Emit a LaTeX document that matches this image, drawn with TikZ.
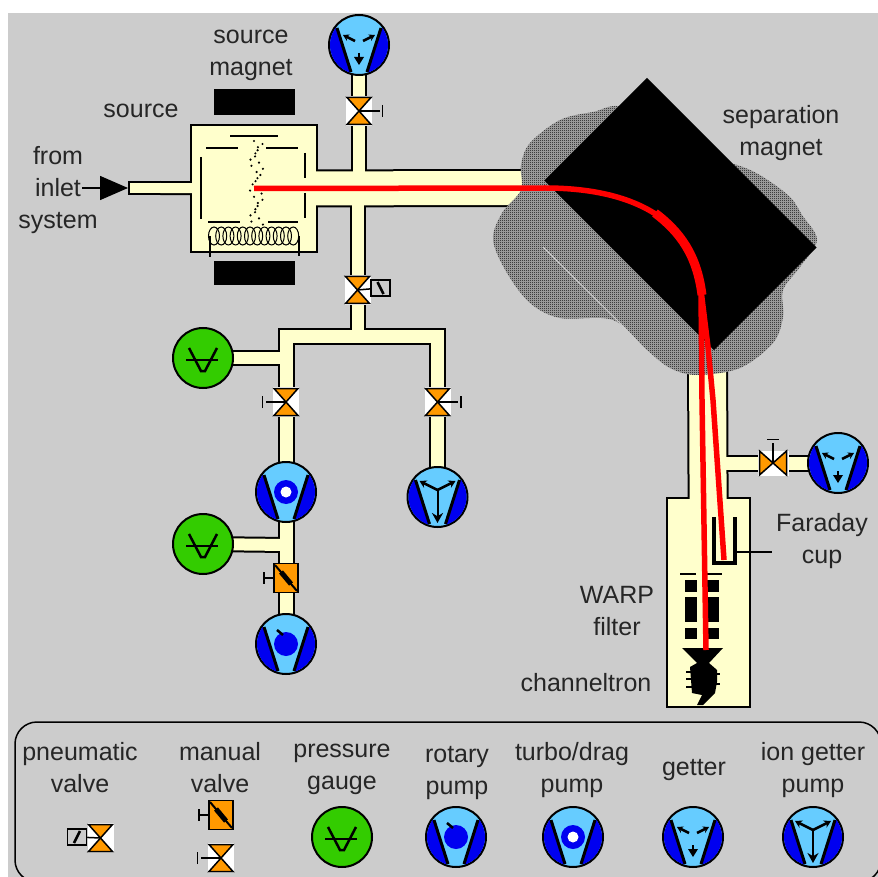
\documentclass[tikz,border=0pt]{standalone}
\usepackage{fontspec}
\setmainfont{Liberation Sans}
\usepackage{tikz}
\usetikzlibrary{arrows.meta}
\usetikzlibrary{patterns}
\usetikzlibrary{positioning}
\definecolor{panelgray}{HTML}{CCCCCC}
\definecolor{hatchbase}{HTML}{B0B0B0}
\definecolor{cream}{HTML}{FFFFCC}
\definecolor{skyblue}{HTML}{66CCFF}
\definecolor{pumpblue}{HTML}{0000F0}
\definecolor{gaugegreen}{HTML}{33CC00}
\definecolor{valveorange}{HTML}{FF9900}
\pgfdeclarepatternformonly{dither}{\pgfqpoint{0pt}{0pt}}{\pgfqpoint{2pt}{2pt}}{\pgfqpoint{2pt}{2pt}}{
	\pgfpathrectangle{\pgfqpoint{0pt}{0pt}}{\pgfqpoint{1pt}{1pt}}
	\pgfpathrectangle{\pgfqpoint{1pt}{1pt}}{\pgfqpoint{1pt}{1pt}}
	\pgfusepath{fill}
}
\pgfdeclarelayer{panel}
\pgfdeclarelayer{tubeback}
\pgfdeclarelayer{vessel}
\pgfdeclarelayer{tubefront}
\pgfsetlayers{panel,tubeback,vessel,tubefront,main}
\newcommand{\tubelines}{
	\draw[tube=34] (source.center) -- (mainend);
	\draw[tube=10] (inlet.center) -- (source.center);
	\draw[tube=12] (pump1.center) -- (mainjoin1);
	\draw[tube=12] (mainjoin2) -- (valve2.center) -- (tee1);
	\draw[tube=13] (pump2.center) -- (valve3.center) -- (tee2) -- (tee3) -- (valve4.center) -- (pump3.center);
	\draw[tube=12] (gauge1.center) -- (gaugejoin1);
	\draw[tube=13] (pump2.center) -- (valve5.center) -- (pump4.center);
	\draw[tube=12] (gauge2.center) -- (gaugejoin2);
	\draw[tube=37] (neckend) -- (chamber.center);
	\draw[tube=13] (neckjoin) -- (valve6.center) -- (pump5.center);
}
\begin{document}
\begin{tikzpicture}[x=1pt, y=-1pt,
			caption/.style={align=center, inner sep=0pt, text=black!85, font=\fontsize{25}{32}\selectfont, execute at begin node=\strut, execute at end node=\strut},
			vesselbox/.style={draw=black, fill=cream, line width=2pt, rectangle, inner sep=0pt},
			pumpdisc/.style={draw=black, fill=skyblue, line width=2pt, circle, inner sep=0pt, minimum size=60pt},
			gaugedisc/.style={draw=black, fill=gaugegreen, line width=2pt, circle, inner sep=0pt, minimum size=60pt},
			valvebox/.style={fill=white, rectangle, inner sep=0pt, minimum width=26pt, minimum height=30pt},
			sidebox/.style={fill=white, rectangle, inner sep=0pt, minimum width=31pt, minimum height=25pt},
			flapbox/.style={draw=black, fill=valveorange, line width=1.5pt, rectangle, inner sep=0pt, minimum width=24pt, minimum height=29pt},
			actbox/.style={draw=black, line width=1.5pt, rectangle, inner sep=0pt, minimum width=19pt, minimum height=16pt},
			magnetbar/.style={fill=black, rectangle, inner sep=0pt, minimum width=81pt},
			plate/.style={line width=2pt},
			beam/.style={draw=red, line width=5.5pt},
			lever/.style={line width=1.5pt},
			slants/.pic={
				\begin{scope}
					\clip (0,0) circle (29);
					\fill[pumpblue] (-22,-17) -- (-8,30) -- (-40,30) -- (-40,-17) -- cycle;
					\fill[pumpblue] (22,-17) -- (8,30) -- (40,30) -- (40,-17) -- cycle;
				\end{scope}
				\draw[line width=3pt] (-22,-17) -- (-8,27);
				\draw[line width=3pt] (22,-17) -- (8,27);
			},
			getterface/.pic={
				\pic {slants};
				\draw[line width=2.5pt, -{Stealth[length=6pt,width=7pt]}] (-4,-4) -- (-16,-10);
				\draw[line width=2.5pt, -{Stealth[length=6pt,width=7pt]}] (4,-4) -- (16,-10);
				\draw[line width=1.5pt] (0,8) -- (0,13);
				\fill (-5,12) -- (5,12) -- (0,20) -- cycle;
			},
			ionface/.pic={
				\pic {slants};
				\draw[line width=2.5pt, -{Stealth[length=7pt,width=8pt]}] (0,-7) -- (-18,-16);
				\draw[line width=2.5pt, -{Stealth[length=7pt,width=8pt]}] (0,-7) -- (18,-16);
				\draw[line width=2pt, -{Stealth[length=10pt,width=11pt]}] (0,-7) -- (0,26);
			},
			turboface/.pic={
				\pic {slants};
				\fill[pumpblue] (0,0) circle (12);
				\fill[white] (0,0) circle (5.5);
			},
			rotaryface/.pic={
				\pic {slants};
				\fill[pumpblue] (0,0) circle (12);
				\draw[line width=2.5pt] (-9,-14) -- (-3,-9);
			},
			gaugeface/.pic={
				\draw[line width=2.5pt] (-14,-10) -- (-2,13) -- (2,13) -- (14,-10);
				\draw[line width=2pt] (-17,2) -- (15,2);
			},
			hourglass/.pic={
				\filldraw[draw=black, fill=valveorange, line width=1.5pt] (-12,-13.5) -- (12,-13.5) -- (0,0) -- cycle;
				\filldraw[draw=black, fill=valveorange, line width=1.5pt] (-12,13.5) -- (12,13.5) -- (0,0) -- cycle;
			},
			knob/.pic={
				\draw[lever] (0,0) -- (20.5,0);
				\draw[lever] (23.5,-6) -- (23.5,6);
			},
			flap/.pic={
				\draw[line width=2pt] (-11,-13) -- (11,13);
				\draw[line width=5pt] (-5,-6) -- (5,6);
				\draw[lever] (-12,0) -- (-22,0);
				\draw[lever] (-22,-6) -- (-22,6);
			}]
			\useasboundingbox (0,0) rectangle (878,877);
			\begin{pgfonlayer}{panel}
				\fill[panelgray] (8,13) rectangle (878,877);
			\end{pgfonlayer}

			\begin{pgfonlayer}{vessel}
				\node[vesselbox, minimum width=62pt, minimum height=12pt](inlet) at (160, 188) {};
				\node[vesselbox, minimum width=126pt, minimum height=127pt](source) at (254, 188.5) {};
				\node[vesselbox, minimum width=83pt, minimum height=209pt](chamber) at (708.5, 602.5) {};
			\end{pgfonlayer}

			\coordinate (mainend) at (535, 188);
			\coordinate (mainjoin1) at (359, 188);
			\coordinate (mainjoin2) at (357.5, 188);
			\coordinate (tee1) at (357.5, 336);
			\coordinate (tee2) at (286, 336);
			\coordinate (tee3) at (437.5, 336);
			\coordinate (gaugejoin1) at (286, 358);
			\coordinate (gaugejoin2) at (286, 545);
			\coordinate (neckend) at (707.5, 350);
			\coordinate (neckjoin) at (707.5, 463);

			\fill[hatchbase, postaction={pattern=dither, pattern color=black}] plot[smooth cycle, tension=0.55] coordinates {(625,108) (593,112) (560,120) (530,143) (521,165) (521,190) (502,213) (493,240) (507,273) (530,303) (560,318) (613,320) (647,350) (670,368) (697,375) (740,368) (773,343) (783,317) (783,290) (800,267) (817,240) (802,215) (790,197) (763,177) (737,165) (680,150)};
			\draw[panelgray, line width=1pt] (543,247) -- (627,330);
			\node[fill=black, rectangle, inner sep=0pt, minimum width=240pt, minimum height=145pt, rotate=-45](sepmagnet) at (680.5, 214) {};

			\node[magnetbar, minimum height=26pt](magnet1) at (254.5, 102) {};
			\node[magnetbar, minimum height=24pt](magnet2) at (254.5, 273) {};

			\draw[plate] (230,136) -- (278,136);
			\draw[plate] (206,148) -- (238,148);
			\draw[plate] (266,148) -- (298,148);
			\draw[plate] (201,157) -- (201,219);
			\draw[plate] (305,153) -- (305,178);
			\draw[plate] (305,193) -- (305,218);
			\draw[plate] (208,222) -- (240,222);
			\draw[plate] (268,222) -- (298,222);
			\foreach \k in {0,...,13} {
				\fill ({254+4*sin(\k*80)}, {141+\k*6.2}) circle (1.2);
				\fill ({259+4*sin(\k*80+120)}, {144+\k*6.2}) circle (1.2);
			}
			\foreach \k in {0,...,11} {
				\draw[line width=1pt] ({214+\k*7.2}, 236) ellipse (5.5 and 9);
			}
			\draw[lever] (210,236) -- (210,257);
			\draw[lever] (299,236) -- (299,256);

			\draw[line width=4.5pt] (714,517) -- (714,563) -- (735,563) -- (735,517);
			\coordinate (cuplead) at (772, 552);
			\draw[lever] (736,552) -- (cuplead);
			\draw[lever] (680,574) -- (696,574);
			\draw[lever] (707,574) -- (722,574);
			\foreach \x in {685,707} {
				\fill (\x,580) rectangle ({\x+12},592);
				\fill (\x,597) rectangle ({\x+12},622);
				\fill (\x,628) rectangle ({\x+12},639);
			}
			\fill (682,648) -- (723,648) -- (709,663) -- (717,670) -- (717,682) -- (715,693) -- (703,705) -- (697,705) -- (702,695) -- (692,693) -- (690,667) -- (697,663) -- cycle;
			\foreach \y in {672,679,687} {
				\draw[lever] (686,\y) -- (692,\y);
			}
			\foreach \y in {674,684} {
				\draw[lever] (714,\y) -- (720,\y);
			}

			\coordinate (channeltip) at (706, 650);
			\coordinate (cuptip) at (724, 560);
			\coordinate (split) at (701, 290);
			\draw[beam] (source.center) -- (545,188) .. controls (640,188) and (695,225) .. (split);
			\draw[beam, line width=9pt] (655,213) .. controls (680,232) and (697,255) .. (702,295);
			\draw[beam] (split) -- (702,400) -- (channeltip);
			\draw[beam] (split) -- (708,347) -- (713,400) -- (cuptip);

			\node[pumpdisc](pump1) at (359, 45) {};
			\pic at (pump1) {getterface};
			\node[valvebox](valve1) at (359, 111) {};
			\pic at (valve1) {knob};
			\pic at (valve1) {hourglass};
			\node[valvebox](valve2) at (357.5, 290) {};
			\node[actbox](act1) at (380.5, 288) {};
			\draw[lever] (valve2.center) -- (act1);
			\draw[line width=2.5pt] (act1) ++(-3,-6) -- ++(6,12);
			\pic at (valve2) {hourglass};

			\node[gaugedisc](gauge1) at (203, 358) {};
			\pic at (gauge1) {gaugeface};
			\node[valvebox](valve3) at (286, 402) {};
			\pic[rotate=180] at (valve3) {knob};
			\pic at (valve3) {hourglass};
			\node[valvebox](valve4) at (437.5, 402) {};
			\pic at (valve4) {knob};
			\pic at (valve4) {hourglass};
			\node[pumpdisc](pump2) at (286, 492) {};
			\pic at (pump2) {turboface};
			\node[pumpdisc](pump3) at (437.5, 497) {};
			\pic at (pump3) {ionface};
			\node[gaugedisc](gauge2) at (203, 544) {};
			\pic at (gauge2) {gaugeface};
			\node[flapbox](valve5) at (286, 578) {};
			\pic at (valve5) {flap};
			\node[pumpdisc](pump4) at (286, 644) {};
			\pic at (pump4) {rotaryface};

			\node[sidebox](valve6) at (773, 463) {};
			\pic[rotate=90] at (valve6) {hourglass};
			\pic[rotate=90] at (valve6) {knob};
			\node[pumpdisc](pump5) at (838, 463) {};
			\pic at (pump5) {getterface};

			\node[caption](text1) at (251, 58) {source\\magnet};
			\node[caption](text2) at (141, 111) {source};
			\node[caption](text3) at (58, 192.5) {from\\inlet\\system};
			\coordinate (arrowstart) at (82, 188);
			\draw[lever, -{Triangle[length=28pt,width=24pt]}] (arrowstart) -- (inlet.west);
			\node[caption](text4) at (781, 135.5) {separation\\magnet};
			\node[caption](text5) at (822, 543) {Faraday\\cup};
			\node[caption](text6) at (617, 616) {WARP\\filter};
			\node[caption](text7) at (586, 685) {channeltron};

			\node[draw=black, line width=1.5pt, rectangle, rounded corners=22pt, inner sep=0pt, minimum width=866pt, minimum height=160pt](legend) at (448, 802) {};
			\node[caption](legend1) at (80, 772) {pneumatic\\valve};
			\node[caption](legend2) at (220, 772) {manual\\valve};
			\node[caption](legend3) at (342, 772) {pressure\\gauge};
			\node[caption](legend4) at (457, 775) {rotary\\pump};
			\node[caption](legend5) at (572, 772) {turbo/drag\\pump};
			\node[caption](legend6) at (694, 769) {getter};
			\node[caption](legend7) at (813, 772) {ion getter\\pump};

			\node[valvebox](valve7) at (100.5, 838) {};
			\node[actbox](act2) at (77, 837) {};
			\draw[lever] (act2) -- (valve7.center);
			\draw[line width=2.5pt] (act2) ++(3,-6) -- ++(-6,12);
			\pic at (valve7) {hourglass};
			\node[flapbox](valve8) at (221, 815) {};
			\pic at (valve8) {flap};
			\node[valvebox](valve9) at (221, 858) {};
			\pic[rotate=180] at (valve9) {knob};
			\pic at (valve9) {hourglass};
			\node[gaugedisc](gauge3) at (342, 837) {};
			\pic at (gauge3) {gaugeface};
			\node[pumpdisc](pump6) at (456, 837) {};
			\pic at (pump6) {rotaryface};
			\node[pumpdisc](pump7) at (573, 837) {};
			\pic at (pump7) {turboface};
			\node[pumpdisc](pump8) at (693, 837) {};
			\pic at (pump8) {getterface};
			\node[pumpdisc](pump9) at (813, 837) {};
			\pic at (pump9) {ionface};

			\begin{pgfonlayer}{tubeback}
				\begin{scope}[tube/.style={draw=black, line width={#1pt+4pt}}]
					\tubelines
				\end{scope}
			\end{pgfonlayer}
			\begin{pgfonlayer}{tubefront}
				\begin{scope}[tube/.style={draw=cream, line width=#1pt}]
					\tubelines
				\end{scope}
			\end{pgfonlayer}
\end{tikzpicture}
\end{document}
